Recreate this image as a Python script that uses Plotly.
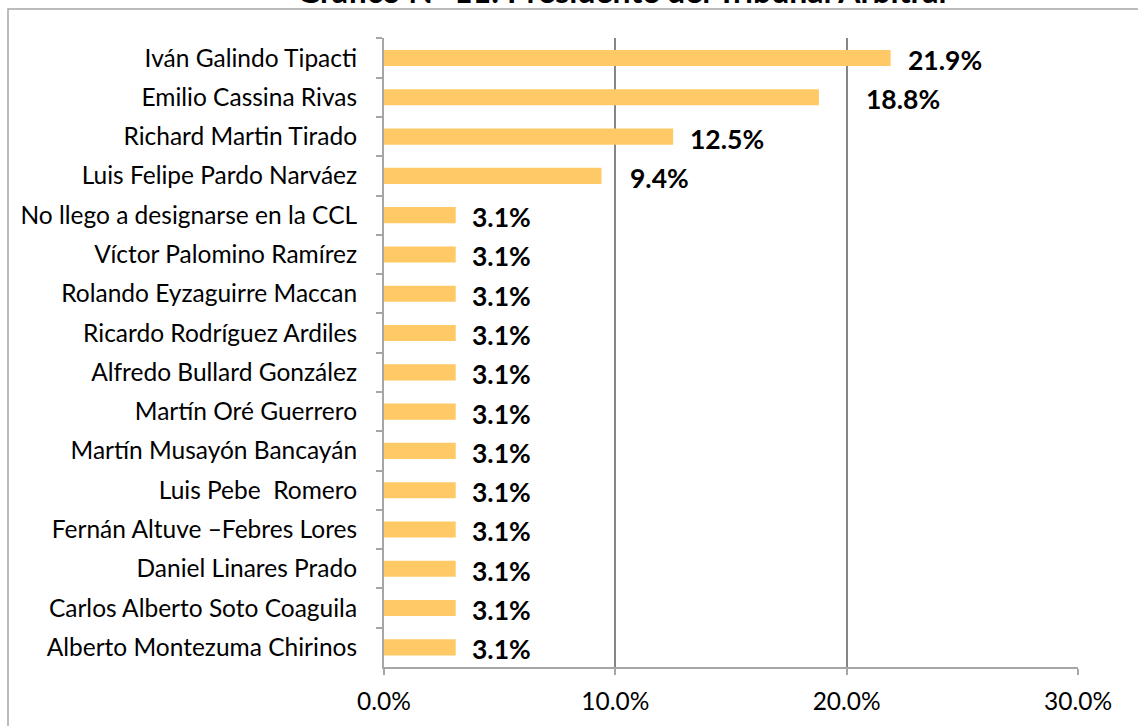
import plotly.graph_objects as go

categories = [
    "Iván Galindo Tipacti",
    "Emilio Cassina Rivas",
    "Richard Martin Tirado",
    "Luis Felipe Pardo Narváez",
    "No llego a designarse en la CCL",
    "Víctor Palomino Ramírez",
    "Rolando Eyzaguirre Maccan",
    "Ricardo Rodríguez Ardiles",
    "Alfredo Bullard González",
    "Martín Oré Guerrero",
    "Martín Musayón Bancayán",
    "Luis Pebe  Romero",
    "Fernán Altuve –Febres Lores",
    "Daniel Linares Prado",
    "Carlos Alberto Soto Coaguila",
    "Alberto Montezuma Chirinos",
]
values = [0.219, 0.188, 0.125, 0.094] + [0.031] * 12
label_text = [f"{v*100:.1f}%" for v in values]
label_shift = [15, 45, 15, 27] + [14] * 12  # px gap of labels from bar ends

title_text = "Gráfico N° 11: Presidente del Tribunal Arbitral"

FONT = "Lato"
W, H = 1138, 726
L, R, T, B = 384, 60, 38, 59
pw, ph = W - L - R, H - T - B

fig = go.Figure()
fig.add_trace(go.Bar(
    y=categories, x=values, orientation="h",
    marker=dict(color="#FFCA66", line=dict(width=0)),
    hoverinfo="skip",
))

for c, v, t, s in zip(categories, values, label_text, label_shift):
    fig.add_annotation(x=v, y=c, xref="x", yref="y", text=f"<b>{t}</b>",
                       showarrow=False, xanchor="left", yanchor="middle",
                       xshift=s, yshift=-2,
                       font=dict(family=FONT, size=26.5, color="#000000"))

# title (partially clipped at top like the reference)
fig.add_annotation(x=(622 - L) / pw, y=(H - B + 9) / ph,
                   xref="paper", yref="paper", text=f"<b>{title_text}</b>",
                   showarrow=False, xanchor="center", yanchor="middle",
                   font=dict(family=FONT, size=32, color="#000000"))

# outer chart border
fig.add_shape(type="rect", xref="paper", yref="paper",
              x0=(8 - L) / pw, x1=(W + 20 - L) / pw,
              y0=-(B + 20) / ph, y1=(H - B - 9) / ph,
              line=dict(color="#A6A6A6", width=1.5), fillcolor="rgba(0,0,0,0)",
              layer="below")

fig.update_layout(
    width=W, height=H,
    margin=dict(l=L, r=R, t=T, b=B, pad=0),
    paper_bgcolor="white", plot_bgcolor="white",
    bargap=0.59,
    showlegend=False,
    font=dict(family=FONT, size=24, color="#000000"),
)
fig.update_xaxes(
    range=[0, 0.30], tickvals=[0, 0.1, 0.2, 0.3], tickformat=".1%",
    showgrid=True, gridcolor="#868686", gridwidth=2,
    showline=True, linecolor="#A6A6A6", linewidth=2,
    ticks="outside", ticklen=6, tickcolor="#A6A6A6", tickwidth=2,
    tickfont=dict(family=FONT, size=24.5, color="#000000"),
    ticklabelstandoff=6, zeroline=False, fixedrange=True,
)
fig.update_yaxes(
    autorange="reversed", type="category",
    showline=True, linecolor="#A6A6A6", linewidth=2,
    ticks="outside", ticklen=6, tickcolor="#A6A6A6", tickwidth=2,
    tickson="boundaries",
    tickfont=dict(family=FONT, size=24.5, color="#000000"),
    ticklabelstandoff=20, showgrid=False, fixedrange=True,
)

fig.write_html("out.html", config={"displayModeBar": False},
               post_script="document.body.style.margin='0px';document.body.style.overflow='hidden';")
